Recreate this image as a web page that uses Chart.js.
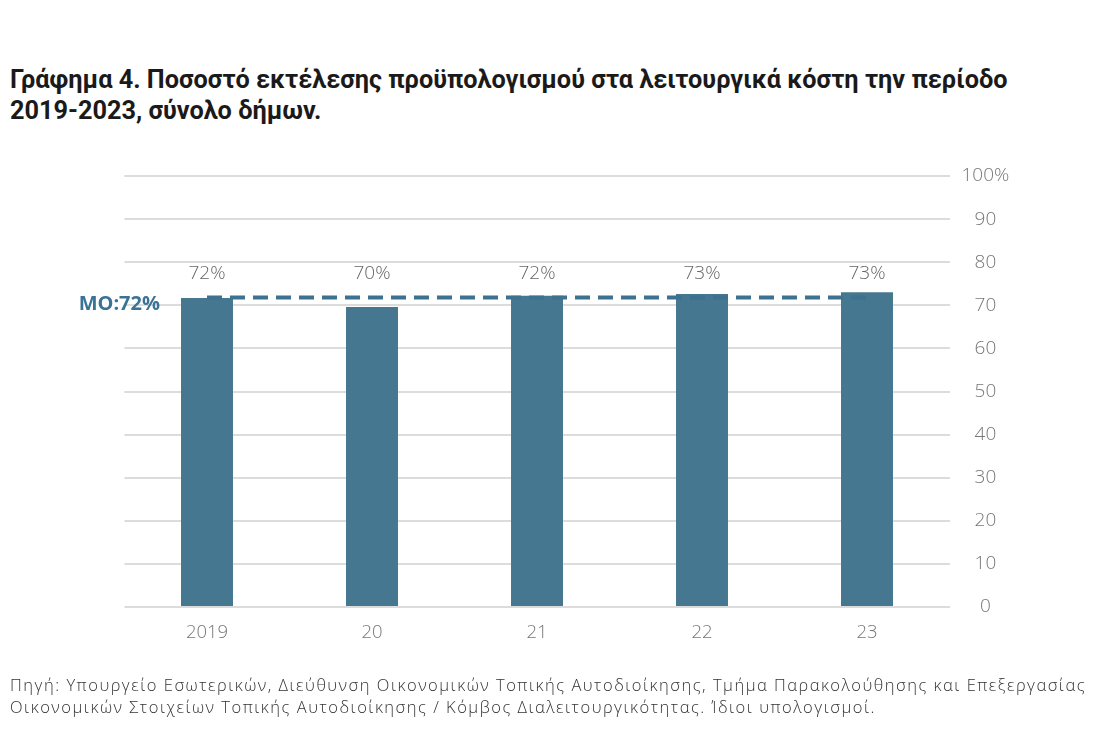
<!doctype html>
<html lang="el">
    <head>
        <meta charset="UTF-8" />
        <title>Γράφημα 4</title>
        <script src="https://cdn.jsdelivr.net/npm/chart.js"></script>
        <style>
            body { margin: 0; background: #fff; }
            #wrap { position: relative; width: 1101px; height: 755px; overflow: hidden; }
            #chart { position: absolute; left: 0; top: 0; }
            .title {
                position: absolute; left: 10px; top: 64px; width: 1090px;
                font-family: Roboto, sans-serif; font-weight: 700; font-size: 25.3px;
                line-height: 31px; color: #1a1a1a;
            }
            .source {
                position: absolute; left: 10px; top: 674px; width: 1095px;
                font-family: "Open Sans", sans-serif; font-weight: 300; font-size: 16.5px;
                letter-spacing: 1.5px; line-height: 22px; color: #333; white-space: nowrap;
            }
        </style>
    </head>
    <body>
        <div id="wrap">
            <div class="title">Γράφημα 4. Ποσοστό εκτέλεσης προϋπολογισμού στα λειτουργικά κόστη την περίοδο<br />2019-2023, σύνολο δήμων.</div>
            <canvas id="chart" width="1101" height="755"></canvas>
            <div class="source">Πηγή: Υπουργείο Εσωτερικών, Διεύθυνση Οικονομικών Τοπικής Αυτοδιοίκησης, Τμήμα Παρακολούθησης και Επεξεργασίας<br />Οικονομικών Στοιχείων Τοπικής Αυτοδιοίκησης / Κόμβος Διαλειτουργικότητας. Ίδιοι υπολογισμοί.</div>
        </div>
        <script>
            // data
            var years = ["2019", "20", "21", "22", "23"];
            var execution = [71.7, 69.6, 72.2, 72.6, 73.0];
            var valueLabels = ["72%", "70%", "72%", "73%", "73%"];
            var average = [71.8, 71.8, 71.8, 71.8, 71.8];
            var averageLabel = "MO:72%";

            var barColor = "#467791";
            var lineColor = "#3d7190";

            // value labels above bars + the MO label on the left
            var labelsPlugin = {
                id: "labelsPlugin",
                afterDatasetsDraw: function (chart) {
                    var ctx = chart.ctx;
                    var bars = chart.getDatasetMeta(0).data;
                    ctx.save();
                    ctx.font = "300 19px 'Open Sans', sans-serif";
                    ctx.fillStyle = "#666";
                    ctx.textAlign = "center";
                    ctx.textBaseline = "middle";
                    bars.forEach(function (bar, i) {
                        ctx.fillText(valueLabels[i], bar.x, bar.y - 24);
                    });
                    var y = chart.scales.y.getPixelForValue(average[0]);
                    ctx.font = "700 20px 'Open Sans', sans-serif";
                    ctx.fillStyle = "#3b7396";
                    ctx.textAlign = "right";
                    ctx.fillText(averageLabel, 160, y + 7);
                    ctx.restore();
                }
            };

            new Chart(document.getElementById("chart"), {
                data: {
                    labels: years,
                    datasets: [
                        {
                            type: "line",
                            data: average,
                            borderColor: lineColor,
                            borderWidth: 4,
                            borderDash: [15, 8],
                            pointRadius: 0,
                            fill: false,
                            order: 0
                        },
                        {
                            type: "bar",
                            data: execution,
                            backgroundColor: barColor,
                            barPercentage: 0.315,
                            categoryPercentage: 1,
                            order: 1
                        }
                    ]
                },
                options: {
                    responsive: false,
                    animation: false,
                    layout: { padding: { left: 124.5, right: 81.5, top: 176, bottom: 108 } },
                    plugins: { legend: { display: false }, tooltip: { enabled: false } },
                    scales: {
                        x: {
                            grid: { display: false, drawTicks: false },
                            border: { display: false },
                            ticks: { color: "#777", padding: 15, font: { family: "Open Sans", size: 18.5, weight: 300 } },
                            afterFit: function (scale) { scale.height = 40; }
                        },
                        y: {
                            position: "right",
                            min: 0,
                            max: 100,
                            grid: { color: "#dcdcdc", lineWidth: 2, drawTicks: false },
                            border: { display: false },
                            ticks: {
                                stepSize: 10,
                                padding: 12,
                                crossAlign: "center",
                                color: "#777",
                                font: { family: "Open Sans", size: 19, weight: 300 },
                                callback: function (v) { return v === 100 ? "100%" : v; }
                            },
                            afterFit: function (scale) { scale.width = 70; }
                        }
                    }
                },
                plugins: [labelsPlugin]
            });
        </script>
    </body>
</html>
